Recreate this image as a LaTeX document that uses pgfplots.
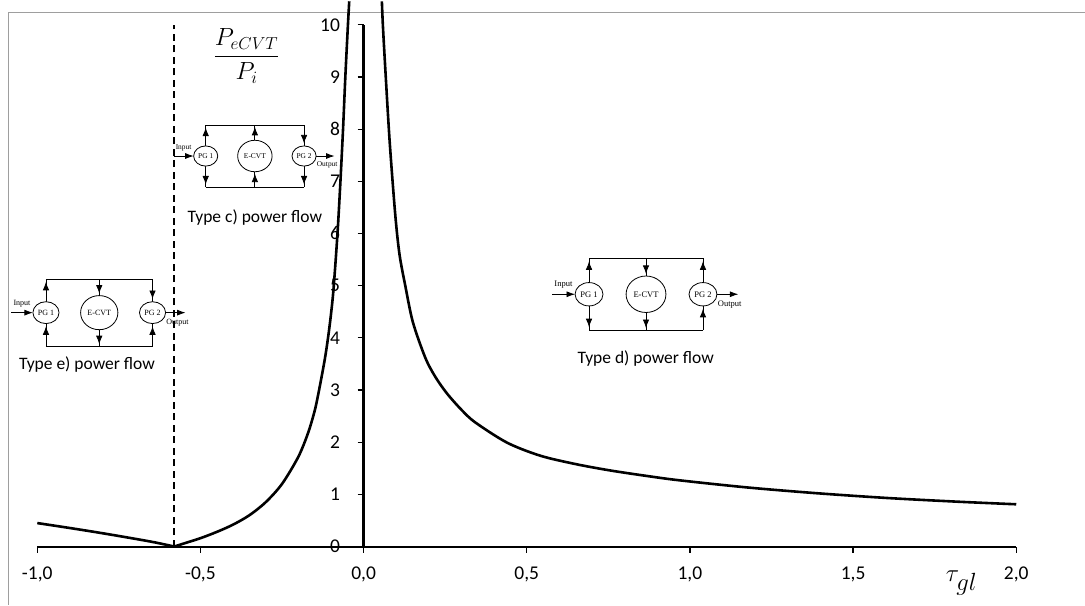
\documentclass[border=0pt]{standalone}
\usepackage{fontspec}
\setmainfont{Carlito}
\newfontfamily\diagfont{Liberation Serif}
\usepackage{pgfplots}
\pgfplotsset{compat=1.18}
\usetikzlibrary{arrows.meta,decorations.markings}

% power-flow sketch: #1,#2 centre (pt), #3 half spacing (pt), #4 font size, #5 arrow segments x/from/to
\newcommand\pgdiag[5]{%
  \begin{scope}[shift={(#1pt,#2pt)}, x=#3pt, y=#3pt, line width=0.8pt,
      font=\fontsize{#4}{#4}\diagfont]
    \draw (-1,0.63) -- (1,0.63);
    \draw (-1,-0.63) -- (1,-0.63);
    \foreach \xx/\ya/\yb in {#5}{
      \draw[postaction={decorate}, decoration={markings,
        mark=at position 0.88 with {\arrow{Latex[length=8.5pt,width=6.5pt]}}}]
        (\xx,\ya) -- (\xx,\yb);
    }
    \draw[fill=white] (-1,0) ellipse [x radius=0.245, y radius=0.205];
    \draw[fill=white] (0,0) ellipse [x radius=0.35, y radius=0.32];
    \draw[fill=white] (1,0) ellipse [x radius=0.245, y radius=0.205];
    \node at (-1,0) {PG 1};
    \node at (0,0) {E-CVT};
    \node at (1,0) {PG 2};
    \draw[-{Latex[length=8.5pt,width=6pt]}] (-1.65,0) -- (-1.245,0);
    \draw[-{Latex[length=8.5pt,width=6pt]}] (1.245,0) -- (1.62,0);
    \node at (-1.45,0.17) {Input};
    \node at (1.47,-0.18) {Output};
  \end{scope}}

\begin{document}
\begin{tikzpicture}
\path (-37.3pt,-58.3pt) rectangle (1047.7pt,545.7pt);
\draw[black!38, line width=1pt] (-28.3pt,-58.3pt) -- (-28.3pt,534.7pt) -- (1047.7pt,534.7pt);
\begin{axis}[
  scale only axis, width=979.4pt, height=522pt,
  xmin=-1, xmax=2, ymin=0, ymax=10,
  clip=false,
  axis x line=bottom, axis y line=middle,
  axis line style={-},
  x axis line style={-, line width=2pt},
  y axis line style={-, line width=2.6pt},
  xtick={-1,-0.5,0,0.5,1,1.5,2},
  xticklabels={{-1,0},{-0,5},{0,0},{0,5},{1,0},{1,5},{2,0}},
  ytick={0,1,2,3,4,5,6,7,8,9,10},
  yticklabels={0,1,2,3,4,5,6,7,8,9,10},
  hide obscured x ticks=false, hide obscured y ticks=false,
  tick align=center, major tick length=6pt,
  tick style={black, line width=1.2pt},
  x tick style={yshift=-3pt},
  y tick style={xshift=-3pt},
  tick label style={font=\fontsize{19.5}{22}\selectfont, inner sep=0pt},
  xticklabel style={anchor=north, yshift=-17pt},
  yticklabel style={anchor=east, xshift=-20.5pt},
]
\addplot[black, line width=2pt, dash pattern=on 7pt off 4.5pt] coordinates {(-0.58,0) (-0.58,10)};
\addplot[black, line width=2.6pt, smooth, line join=round] coordinates {
  (-1.0,0.45) (-0.9,0.355) (-0.8,0.255) (-0.7,0.148) (-0.64,0.08) (-0.58,0)};
\addplot[black, line width=2.6pt, smooth, line join=round] coordinates {
  (-0.58,0) (-0.54,0.08) (-0.5,0.16) (-0.45,0.28) (-0.4,0.42) (-0.35,0.6)
  (-0.3,0.85) (-0.25,1.2) (-0.2,1.72) (-0.17,2.18) (-0.15,2.6) (-0.138,2.95)
  (-0.12,3.55) (-0.109,4.0) (-0.1,4.45) (-0.092,4.95) (-0.08,6.0) (-0.071,7.0)
  (-0.063,8.0) (-0.056,9.0) (-0.048,10.0) (-0.044,10.45)};
\addplot[black, line width=2.6pt, smooth, line join=round] coordinates {
  (0.056,10.45) (0.059,10.0) (0.067,9.1) (0.08,7.75) (0.097,6.36) (0.11,5.6)
  (0.128,4.99) (0.151,4.3) (0.189,3.62) (0.22,3.25) (0.256,2.93) (0.3,2.62)
  (0.342,2.38) (0.44,1.99) (0.542,1.74) (0.65,1.58) (0.754,1.46) (0.86,1.36)
  (0.967,1.27) (1.18,1.13) (1.393,1.02) (1.606,0.93) (1.819,0.86) (2.0,0.81)};
\end{axis}

\pgdiag{217.7}{390.7}{49.2}{7.4}{-1/0.205/0.63, -1/-0.205/-0.63, 0/0.32/0.63, 0/-0.63/-0.32, 1/0.63/0.205, 1/-0.205/-0.63}
\pgdiag{62}{234}{53.3}{8}{-1/0.205/0.63, -1/-0.63/-0.205, 0/0.63/0.32, 0/-0.32/-0.63, 1/0.63/0.205, 1/-0.63/-0.205}
\pgdiag{609}{252.4}{57}{8.5}{-1/0.205/0.63, -1/-0.205/-0.63, 0/0.63/0.32, 0/-0.32/-0.63, 1/0.205/0.63, 1/-0.63/-0.205}

\node[font=\fontsize{17.5}{20}\selectfont] at (217.7pt,328.7pt) {Type c) power flow};
\node[font=\fontsize{17.5}{20}\selectfont] at (49.7pt,181.7pt) {Type e) power flow};
\node[font=\fontsize{17.5}{20}\selectfont] at (608.7pt,187.7pt) {Type d) power flow};
\node[font=\fontsize{23}{26}\selectfont] at (209.4pt,490.7pt) {$\displaystyle\frac{P_{eCVT}}{P_i}$};
\node[font=\fontsize{34}{38}\selectfont] at (924.7pt,-36.3pt) {$\tau_{gl}$};
\end{tikzpicture}
\end{document}
